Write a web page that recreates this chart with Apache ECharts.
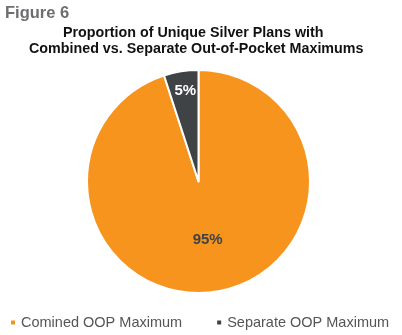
<!DOCTYPE html>
<html>
<head>
<meta charset="utf-8">
<script src="https://cdn.jsdelivr.net/npm/echarts@6/dist/echarts.min.js"></script>
<style>
  html, body { margin: 0; padding: 0; background: #fff; }
  #chart { width: 402px; height: 335px; }
</style>
</head>
<body>
<div id="chart"></div>
<script>
// Share of unique silver plans by out-of-pocket maximum structure
const categories = ['Comined OOP Maximum', 'Separate OOP Maximum'];
const shares = [95, 5];
const sliceColors = ['#F7941E', '#3F4346'];
const labelColors = ['#3F4346', '#FFFFFF'];
const titleLines = [
  'Proportion of Unique Silver Plans with',
  'Combined vs. Separate Out-of-Pocket Maximums'
];

const FONT = 'Liberation Sans, Arial, sans-serif';
const titleStyle = { fontFamily: FONT, fontSize: 14.3, fontWeight: 'bold', color: '#111111' };
const chart = echarts.init(document.getElementById('chart'));

chart.setOption({
  animation: false,
  backgroundColor: '#ffffff',
  title: [
    {
      text: 'Figure 6',
      left: 0,
      top: 0,
      textStyle: { fontFamily: FONT, fontSize: 16.5, fontWeight: 'bold', color: '#6D6E71' }
    },
    { text: titleLines[0], left: 58, top: 21, textStyle: titleStyle },
    { text: titleLines[1], left: 24, top: 37, textStyle: titleStyle }
  ],
  legend: {
    bottom: 0,
    left: 4,
    itemWidth: 6,
    itemHeight: 6,
    itemGap: 33,
    icon: 'rect',
    textStyle: { fontFamily: FONT, fontSize: 14.5, color: '#555555' },
    data: categories
  },
  series: [{
    type: 'pie',
    center: [198.5, 181.5],
    radius: [0, 111.5],
    startAngle: 90,
    clockwise: true,
    itemStyle: { borderColor: '#ffffff', borderWidth: 2 },
    label: {
      show: true,
      position: 'inside',
      formatter: '{c}%',
      fontFamily: FONT,
      fontSize: 15,
      fontWeight: 'bold'
    },
    labelLayout: function (params) {
      if (params.dataIndex === 1) return { dx: -4, dy: -33 };
      return {};
    },
    data: categories.map((name, i) => ({
      name: name,
      value: shares[i],
      itemStyle: { color: sliceColors[i] },
      label: { color: labelColors[i] }
    }))
  }]
});
</script>
</body>
</html>
